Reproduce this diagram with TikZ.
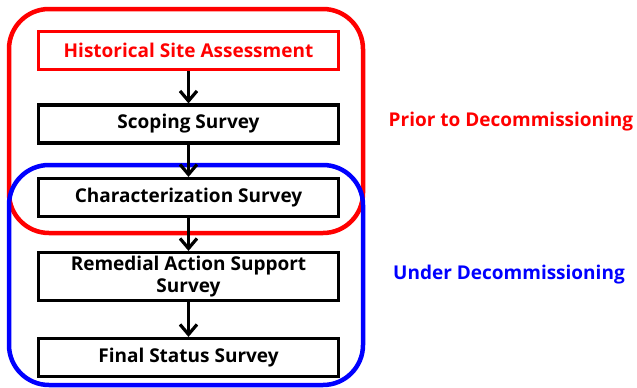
\documentclass[tikz,border=0pt]{standalone}
\usepackage{fontspec}
\setmainfont{Open Sans}
\usetikzlibrary{arrows.meta}
\definecolor{framered}{RGB}{255,0,0}
\definecolor{frameblue}{RGB}{0,0,255}
\begin{document}
\begin{tikzpicture}[x=1pt,y=-1pt,
  lbl/.style={font=\bfseries\fontsize{19}{22}\selectfont},
  stepbox/.style={draw=black,line width=3.2pt,fill=white,minimum width=300pt,
    minimum height=38pt,inner sep=0pt,align=center,lbl},
  phase/.style={line width=4.5pt,rounded corners=40pt,minimum width=354pt,inner sep=0pt},
  flow/.style={line width=3.2pt,-{Straight Barb[length=10pt,width=17pt,line width=3.2pt]}}
]
\useasboundingbox (0,0) rectangle (637,388);
% phase frames
\node[phase,draw=framered,minimum height=224pt] (prior) at (186,121) {};
\node[phase,draw=frameblue,minimum height=220pt] (under) at (186,275) {};
% survey steps
\node[stepbox,draw=framered,line width=2.5pt,text=framered] (hsa) at (188.5,50.5) {Historical Site Assessment};
\node[stepbox] (scope) at (188.5,124) {Scoping Survey};
\node[stepbox] (char) at (188.5,197.5) {Characterization Survey};
\node[stepbox,minimum height=48pt] (rass) at (188.5,276.5) {Remedial Action Support\\Survey};
\node[stepbox] (fss) at (188.5,357.5) {Final Status Survey};
% connectors
\draw[flow] (hsa) -- (scope);
\draw[flow] (scope) -- (char);
\draw[flow] (char) -- (rass);
\draw[flow] (rass) -- (fss);
% phase labels
\node[lbl,text=framered] (priorlbl) at (511,122) {Prior to Decommissioning};
\node[lbl,text=frameblue] (underlbl) at (509,275) {Under Decommissioning};
\end{tikzpicture}
\end{document}
